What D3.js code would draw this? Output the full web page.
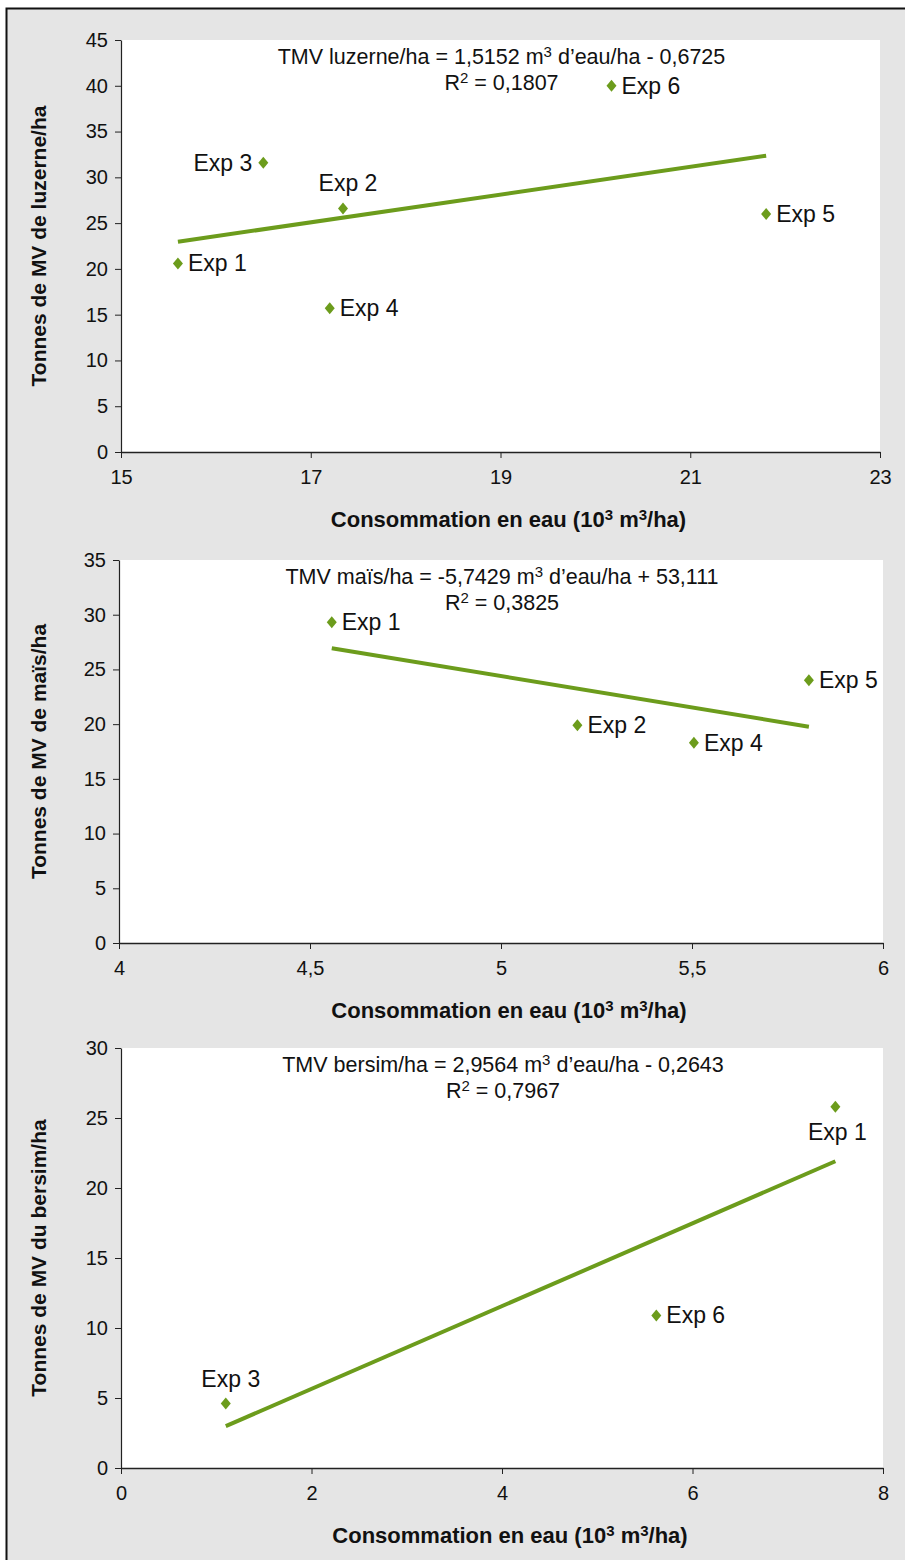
<!DOCTYPE html>
<html>
<head>
<meta charset="utf-8">
<script src="https://cdn.jsdelivr.net/npm/d3@7"></script>
<style>
  body { margin: 0; background: #fff; }
  svg text { font-family: "Liberation Sans", Arial, sans-serif; fill: #111; }
</style>
</head>
<body>
<div id="result"></div>
<script>
const width = 905;
const height = 1560;
const green = '#6c9c1c';

// chart 1 : luzerne
const luzerneLabels = ['Exp 1', 'Exp 2', 'Exp 3', 'Exp 4', 'Exp 5', 'Exp 6'];
const luzerneX = [15.6, 17.34, 16.5, 17.2, 21.8, 20.17];
const luzerneY = [20.6, 26.6, 31.6, 15.7, 26.0, 40.0];
const luzerneFit = [1.5152, -0.6725];

// chart 2 : maïs
const maisLabels = ['Exp 1', 'Exp 2', 'Exp 4', 'Exp 5'];
const maisX = [4.557, 5.2, 5.505, 5.806];
const maisY = [29.3, 19.9, 18.3, 24.0];
const maisFit = [-5.7429, 53.111];

// chart 3 : bersim
const bersimLabels = ['Exp 1', 'Exp 3', 'Exp 6'];
const bersimX = [7.5, 1.1, 5.62];
const bersimY = [25.8, 4.6, 10.9];
const bersimFit = [2.9564, -0.2643];

const charts = [
    {
        labels: luzerneLabels, xs: luzerneX, ys: luzerneY, fit: luzerneFit,
        xDomain: [15, 23], xTicks: [15, 17, 19, 21, 23],
        yDomain: [0, 45], yTicks: d3.range(0, 46, 5),
        box: { left: 121, right: 880, top: 40, bottom: 452 },
        eq: ['TMV luzerne/ha = 1,5152 m', '3', ' d\u2019eau/ha - 0,6725'], r2: '0,1807',
        ytitle: 'Tonnes de MV de luzerne/ha',
        // label placement: r = right, l = left, t = top, b = below
        place: ['r', 't', 'l', 'r', 'r', 'r']
    },
    {
        labels: maisLabels, xs: maisX, ys: maisY, fit: maisFit,
        xDomain: [4, 6], xTicks: [4, 4.5, 5, 5.5, 6],
        yDomain: [0, 35], yTicks: d3.range(0, 36, 5),
        box: { left: 119, right: 883, top: 560, bottom: 943 },
        eq: ['TMV maïs/ha = -5,7429 m', '3', ' d\u2019eau/ha + 53,111'], r2: '0,3825',
        ytitle: 'Tonnes de MV de maïs/ha',
        place: ['r', 'r', 'r', 'r']
    },
    {
        labels: bersimLabels, xs: bersimX, ys: bersimY, fit: bersimFit,
        xDomain: [0, 8], xTicks: [0, 2, 4, 6, 8],
        yDomain: [0, 30], yTicks: d3.range(0, 31, 5),
        box: { left: 121, right: 883, top: 1048, bottom: 1468 },
        eq: ['TMV bersim/ha = 2,9564 m', '3', ' d\u2019eau/ha - 0,2643'], r2: '0,7967',
        ytitle: 'Tonnes de MV du bersim/ha',
        place: ['b', 't', 'r']
    }
];

// a squat diamond, like the spreadsheet marker
const diamond = {
    draw(context) {
        context.moveTo(0, -6);
        context.lineTo(5, 0);
        context.lineTo(0, 6);
        context.lineTo(-5, 0);
        context.closePath();
    }
};

const svg = d3.select('#result')
    .append('svg')
    .attr('width', width)
    .attr('height', height);

// grey panel with a border on top and left
svg.append('rect')
    .attr('x', 6).attr('y', 8)
    .attr('width', width).attr('height', height)
    .attr('fill', '#e5e5e5');
svg.append('path')
    .attr('d', `M6.5,${height} V8.5 H${width}`)
    .attr('fill', 'none')
    .attr('stroke', '#111')
    .attr('stroke-width', 2);

const fmt = v => String(v).replace('.', ',');

for (const c of charts) {
    const b = c.box;
    const x = d3.scaleLinear().domain(c.xDomain).range([b.left, b.right]);
    const y = d3.scaleLinear().domain(c.yDomain).range([b.bottom, b.top]);
    const g = svg.append('g');

    g.append('rect')
        .attr('x', b.left).attr('y', b.top)
        .attr('width', b.right - b.left).attr('height', b.bottom - b.top)
        .attr('fill', '#fff');

    // y axis
    const yAxis = g.append('g')
        .attr('transform', `translate(${b.left},0)`)
        .call(d3.axisLeft(y).tickValues(c.yTicks).tickSize(6).tickSizeOuter(0).tickPadding(7));
    yAxis.select('.domain').attr('stroke', '#222').attr('stroke-width', 1.2);
    yAxis.selectAll('.tick line').attr('stroke', '#222');
    yAxis.selectAll('text').style('font-size', '20px').attr('fill', '#111');

    // x axis
    const xAxis = g.append('g')
        .attr('transform', `translate(0,${b.bottom})`)
        .call(d3.axisBottom(x).tickValues(c.xTicks).tickFormat(fmt).tickSize(6).tickSizeOuter(0).tickPadding(12));
    xAxis.select('.domain').attr('stroke', '#222').attr('stroke-width', 1.6);
    xAxis.selectAll('.tick line').attr('stroke', '#222');
    xAxis.selectAll('text').style('font-size', '20px').attr('fill', '#111');

    // trend line from min x to max x
    const x0 = d3.min(c.xs), x1 = d3.max(c.xs);
    const line = d3.line().x(d => x(d)).y(d => y(c.fit[0] * d + c.fit[1]));
    g.append('path')
        .datum([x0, x1])
        .attr('fill', 'none')
        .attr('stroke', green)
        .attr('stroke-width', 4)
        .attr('d', line);

    // points
    const pts = d3.zip(c.xs, c.ys, c.labels, c.place);
    g.selectAll('.pt')
        .data(pts)
        .enter()
        .append('path')
            .attr('class', 'pt')
            .attr('d', d3.symbol(diamond))
            .attr('transform', d => `translate(${x(d[0])},${y(d[1])})`)
            .attr('fill', green);

    g.selectAll('.lbl')
        .data(pts)
        .enter()
        .append('text')
            .attr('class', 'lbl')
            .attr('x', d => x(d[0]) + ({ r: 10, l: -11, t: 5, b: 2 })[d[3]])
            .attr('y', d => y(d[1]) + ({ r: 8, l: 8, t: -17, b: 33 })[d[3]])
            .attr('text-anchor', d => ({ r: 'start', l: 'end', t: 'middle', b: 'middle' })[d[3]])
            .style('font-size', '23px')
            .text(d => d[2]);

    // equation
    const cx = (b.left + b.right) / 2 + 1;
    const eq = g.append('text')
        .attr('x', cx).attr('y', b.top + 24)
        .attr('text-anchor', 'middle')
        .style('font-size', '21.5px');
    eq.append('tspan').text(c.eq[0]);
    eq.append('tspan').attr('dy', -7).style('font-size', '15px').text(c.eq[1]);
    eq.append('tspan').attr('dy', 7).text(c.eq[2]);

    const r2 = g.append('text')
        .attr('x', cx).attr('y', b.top + 50)
        .attr('text-anchor', 'middle')
        .style('font-size', '21.5px');
    r2.append('tspan').text('R');
    r2.append('tspan').attr('dy', -7).style('font-size', '15px').text('2');
    r2.append('tspan').attr('dy', 7).text(' = ' + c.r2);

    // x title
    const xt = g.append('text')
        .attr('x', cx + 7).attr('y', b.bottom + 75)
        .attr('text-anchor', 'middle')
        .style('font-size', '22px')
        .style('font-weight', 'bold');
    xt.append('tspan').text('Consommation en eau (10');
    xt.append('tspan').attr('dy', -7).style('font-size', '15px').text('3');
    xt.append('tspan').attr('dy', 7).text(' m');
    xt.append('tspan').attr('dy', -7).style('font-size', '15px').text('3');
    xt.append('tspan').attr('dy', 7).text('/ha)');

    // y title
    g.append('text')
        .attr('transform', `translate(46,${(b.top + b.bottom) / 2}) rotate(-90)`)
        .attr('text-anchor', 'middle')
        .style('font-size', '21px')
        .style('font-weight', 'bold')
        .text(c.ytitle);
}
</script>
</body>
</html>
